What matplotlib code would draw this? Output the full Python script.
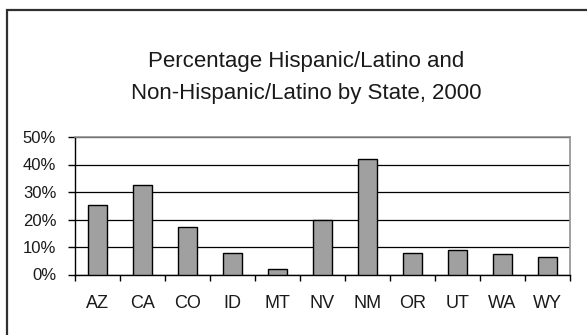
import matplotlib.pyplot as plt
from matplotlib.patches import Rectangle
from matplotlib.ticker import FixedLocator, NullFormatter

plt.rcParams['font.family'] = ['Liberation Sans', 'DejaVu Sans']

# Hispanic/Latino share of population, 2000 (percent)
states = ['AZ', 'CA', 'CO', 'ID', 'MT', 'NV', 'NM', 'OR', 'UT', 'WA', 'WY']
pct_hispanic = [25.3, 32.4, 17.1, 7.9, 2.0, 19.7, 42.1, 8.0, 9.0, 7.5, 6.4]
y_ticks = [0, 10, 20, 30, 40, 50]

W, H = 587, 335
fig = plt.figure(figsize=(W / 100, H / 100), dpi=100)

# chart frame (left/top edges visible)
fig.patches.append(Rectangle((7 / W, -0.1), 1.2, (H - 10) / H + 0.1,
                             transform=fig.transFigure, fill=False,
                             edgecolor='#303030', linewidth=1.6))

ax = fig.add_axes([75 / W, 1 - 274.5 / H, (570 - 75) / W, (274.5 - 137) / H])
x = range(len(states))
ax.bar(x, pct_hispanic, width=0.44, color='#a0a0a0', edgecolor='black',
       linewidth=1.0, zorder=3)

ax.set_xlim(-0.5, len(states) - 0.5)
ax.set_ylim(0, 50)
ax.set_yticks(y_ticks)
ax.set_yticklabels([f'{v}%' for v in y_ticks], fontsize=12, color='#1a1a1a')
ax.yaxis.grid(True, color='black', linewidth=0.9, zorder=1)

ax.set_xticks(list(x))
ax.set_xticklabels(states, fontsize=13, color='#1a1a1a')
ax.tick_params(axis='x', which='major', length=0, pad=15)
ax.xaxis.set_minor_locator(FixedLocator([i - 0.5 for i in range(len(states) + 1)]))
ax.xaxis.set_minor_formatter(NullFormatter())
ax.tick_params(axis='x', which='minor', length=4.5, width=1, direction='out')
ax.tick_params(axis='y', length=5, width=1, direction='out', pad=8.5)

for side in ['left', 'bottom']:
    ax.spines[side].set_color('black')
    ax.spines[side].set_linewidth(1.0)
for side in ['top', 'right']:
    ax.spines[side].set_color('#909090')
    ax.spines[side].set_linewidth(1.2)

fig.text(306 / W, 1 - 62 / H, 'Percentage Hispanic/Latino and',
         ha='center', va='center', fontsize=16, color='#1a1a1a')
fig.text(306 / W, 1 - 93 / H, 'Non-Hispanic/Latino by State, 2000',
         ha='center', va='center', fontsize=16, color='#1a1a1a')

fig.savefig('out.png', dpi=100)
